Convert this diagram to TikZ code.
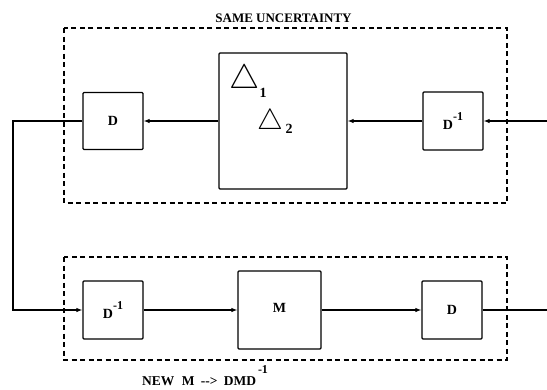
\documentclass[tikz,border=0pt]{standalone}
\usepackage{fontspec}
\setmainfont{Liberation Serif}
\usepackage{graphicx}
\usetikzlibrary{arrows.meta}
\newcommand{\tribox}[1]{\scalebox{#1}{\raisebox{0pt}[\height][0pt]{$\triangle$}}}
\begin{document}
\begin{tikzpicture}[x=1pt,y=-1pt,
  blk/.style={draw,line width=1.2pt,rounded corners=1pt,inner sep=0pt,font=\fontsize{14}{14}\selectfont\bfseries},
  frame/.style={draw,line width=1.2pt,dash pattern=on 5pt off 3.5pt},
  conn/.style={line width=1.2pt},
  arr/.style={conn,-{Latex[length=6pt,width=4.5pt]}},
  lbl/.style={inner sep=0pt,font=\fontsize{13}{13}\selectfont\bfseries}]
\useasboundingbox (0,0) rectangle (547,389);
% dashed frames
\draw[frame] (64,28) rectangle (507,203);
\draw[frame] (64,257) rectangle (507,360);
\node[lbl] (same) at (283.5,18) {SAME UNCERTAINTY};
\node[lbl,font=\fontsize{13.5}{13.5}\selectfont\bfseries,anchor=base west] (newm) at (142,385) {NEW\hspace{4pt} M\hspace{3pt} -{}-{}>\hspace{3pt} DMD};
\node[inner sep=0pt,font=\fontsize{12}{12}\selectfont\bfseries] (sup) at (263,370) {-1};
% top row
\node[blk,minimum width=60pt,minimum height=57pt] (dtop) at (113,121) {D};
\node[blk,minimum width=128pt,minimum height=136pt] (delta) at (283,121) {};
\node[blk,minimum width=60pt,minimum height=58pt] (dinvt) at (453,121) {\raisebox{-4pt}{D}\raisebox{5pt}{\fontsize{12}{12}\selectfont -1}};
\node[inner sep=0pt] (t1) at (245,77) {\tribox{3.4}};
\node[lbl,font=\fontsize{14}{14}\selectfont\bfseries] (s1) at (263,93) {1};
\node[inner sep=0pt] (t2) at (270,119) {\tribox{2.9}};
\node[lbl,font=\fontsize{14}{14}\selectfont\bfseries] (s2) at (289,129) {2};
% bottom row
\node[blk,minimum width=60pt,minimum height=58pt] (dinvb) at (113,310) {\raisebox{-4pt}{D}\raisebox{5pt}{\fontsize{12}{12}\selectfont -1}};
\node[blk,minimum width=83pt,minimum height=78pt] (m) at (279.5,310) {\raisebox{5pt}{M}};
\node[blk,minimum width=60pt,minimum height=58pt] (db) at (452,310) {D};
% connectors
\coordinate (in) at (547,121);
\coordinate (out) at (547,310);
\coordinate (corner) at (13,121);
\draw[arr] (in) -- (dinvt.east);
\draw[arr] (dinvt.west) -- (delta.east);
\draw[arr] (delta.west) -- (dtop.east);
\draw[arr] (dtop.west) -- (corner) |- (dinvb.west);
\draw[arr] (dinvb.east) -- (m.west);
\draw[arr] (m.east) -- (db.west);
\draw[conn] (db.east) -- (out);
\end{tikzpicture}
\end{document}
